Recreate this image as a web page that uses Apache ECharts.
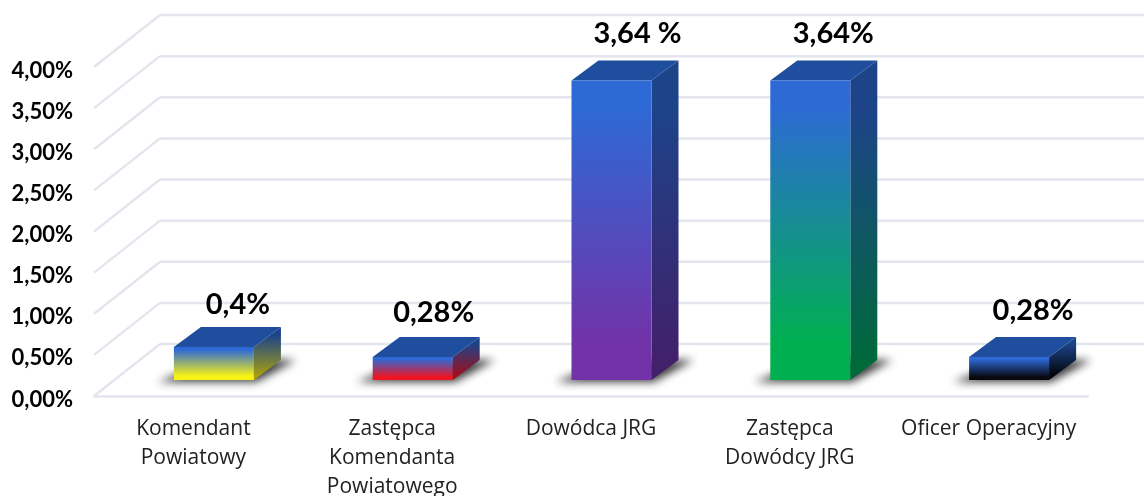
<!DOCTYPE html>
<html>
<head>
<meta charset="utf-8">
<title>Wykres</title>
<script src="https://cdn.jsdelivr.net/npm/echarts@6/dist/echarts.min.js"></script>
<style>
  html, body { margin: 0; padding: 0; background: #fff; }
  #main { width: 1144px; height: 496px; }
</style>
</head>
<body>
<div id="main"></div>
<script>
// dane z wykresu
const categories = ['Komendant\nPowiatowy', 'Zastępca\nKomendanta\nPowiatowego', 'Dowódca JRG', 'Zastępca\nDowódcy JRG', 'Oficer Operacyjny'];
const values = [0.4, 0.28, 3.64, 3.64, 0.28];
const valueLabels = ['0,4%', '0,28%', '3,64 %', '3,64%', '0,28%'];
const yTicks = [0, 0.5, 1, 1.5, 2, 2.5, 3, 3.5, 4];

// kolory dolu slupka: przod, bok
const bottomColors = ['#f8f214', '#f01420', '#7232a8', '#00b050', '#08080f'];
const sideColors = ['#aaa20c', '#a80a14', '#42206a', '#006a3a', '#000000'];
// przesuniecie etykiet wzgledem slupka
const labelShift = [[24, -22], [21, -24], [26, -27], [23, -27], [24, -26]];

const WALL_DX = 66, WALL_DY = -52;   // sciana tylna
const BASE_DX = 20.5, BASE_DY = -16; // podstawa slupka
const DEPTH_DX = 27, DEPTH_DY = -20; // glebokosc slupka
const SHADOW_AWAY = 3000;            // sam cien, ksztalt poza obrazem
const GRID_COLOR = '#e3e6ee';
const BLUE_FRONT = '#2d6ad6', BLUE_SIDE = '#1d4389', BLUE_TOP = '#1f4e9e';

function renderWall(params, api) {
  const sys = params.coordSys;
  const y = api.coord([0, api.value(1)])[1];
  const x0 = sys.x;
  const x1 = sys.x + sys.width + WALL_DX;
  const style = { stroke: GRID_COLOR, lineWidth: 2.5, fill: null };
  return {
    type: 'group',
    children: [
      { type: 'line', shape: { x1: x0, y1: y, x2: x0 + WALL_DX, y2: y + WALL_DY }, style: style },
      { type: 'line', shape: { x1: x0 + WALL_DX, y1: y + WALL_DY, x2: x1, y2: y + WALL_DY }, style: style }
    ]
  };
}

function renderBar(params, api) {
  const i = params.dataIndex;
  const base = api.coord([i, 0]);
  const top = api.coord([i, api.value(1)]);
  const w = api.size([1, 0])[0] * 0.4025;
  const xl = base[0] + BASE_DX - w / 2;
  const xr = xl + w;
  const yb = base[1] + BASE_DY;
  const yt = top[1] + BASE_DY;
  const frontFill = new echarts.graphic.LinearGradient(0, 0, 0, 1, [
    { offset: 0, color: BLUE_FRONT }, { offset: 0.08, color: BLUE_FRONT },
    { offset: 0.88, color: bottomColors[i] }, { offset: 1, color: bottomColors[i] }
  ]);
  const sideFill = new echarts.graphic.LinearGradient(0, 0, 0, 1, [
    { offset: 0, color: BLUE_SIDE }, { offset: 0.15, color: BLUE_SIDE },
    { offset: 0.95, color: sideColors[i] }, { offset: 1, color: sideColors[i] }
  ]);
  return {
    type: 'group',
    children: [
      {
        type: 'polygon',
        x: -SHADOW_AWAY,
        shape: { points: [[xl - 16, yb + 2], [xr + 2, yb + 2], [xr + DEPTH_DX + 15, yb - 20], [xl + 40, yb - 20]] },
        style: { fill: '#000', shadowBlur: 9, shadowColor: 'rgba(50,50,50,0.95)', shadowOffsetX: SHADOW_AWAY }
      },
      {
        type: 'polygon',
        shape: { points: [[xr, yt], [xr + DEPTH_DX, yt + DEPTH_DY], [xr + DEPTH_DX, yb + DEPTH_DY], [xr, yb]] },
        style: { fill: sideFill }
      },
      {
        type: 'polygon',
        shape: { points: [[xl, yt], [xl + DEPTH_DX, yt + DEPTH_DY], [xr + DEPTH_DX, yt + DEPTH_DY], [xr, yt]] },
        style: { fill: BLUE_TOP }
      },
      {
        type: 'rect',
        shape: { x: xl, y: yt, width: w, height: yb - yt },
        style: { fill: frontFill }
      },
      {
        type: 'text',
        x: (xl + xr) / 2 + labelShift[i][0],
        y: yt + DEPTH_DY + labelShift[i][1],
        style: {
          text: valueLabels[i],
          fill: '#000',
          font: 'bold 29px Lato',
          align: 'center',
          verticalAlign: 'middle'
        }
      }
    ]
  };
}

const chart = echarts.init(document.getElementById('main'));
chart.setOption({
  animation: false,
  grid: { left: 94, right: 56, top: 67, bottom: 100, outerBoundsMode: 'none' },
  xAxis: {
    type: 'category',
    data: categories,
    axisTick: { show: false },
    axisLine: { lineStyle: { color: GRID_COLOR, width: 2.5 } },
    axisLabel: {
      interval: 0,
      color: '#222',
      fontFamily: 'Open Sans',
      fontSize: 21,
      lineHeight: 29,
      margin: 19
    }
  },
  yAxis: {
    type: 'value',
    min: 0,
    max: 4,
    interval: 0.5,
    axisLine: { show: false },
    axisTick: { show: false },
    splitLine: { show: false },
    axisLabel: {
      margin: 21,
      formatter: function (v) { return '{t|' + v.toFixed(2).replace('.', ',') + '%}'; },
      rich: {
        t: {
          color: '#000',
          fontFamily: 'Lato',
          fontWeight: 'bold',
          fontSize: 22,
          padding: [7, 0, 0, 0]
        }
      }
    }
  },
  series: [
    {
      type: 'custom',
      clip: false,
      silent: true,
      z: 1,
      renderItem: renderWall,
      encode: { x: 0, y: 1 },
      data: yTicks.map(function (t) { return [0, t]; })
    },
    {
      type: 'custom',
      clip: false,
      z: 2,
      renderItem: renderBar,
      encode: { x: 0, y: 1 },
      data: values.map(function (v, i) { return [i, v]; })
    }
  ]
});
</script>
</body>
</html>
